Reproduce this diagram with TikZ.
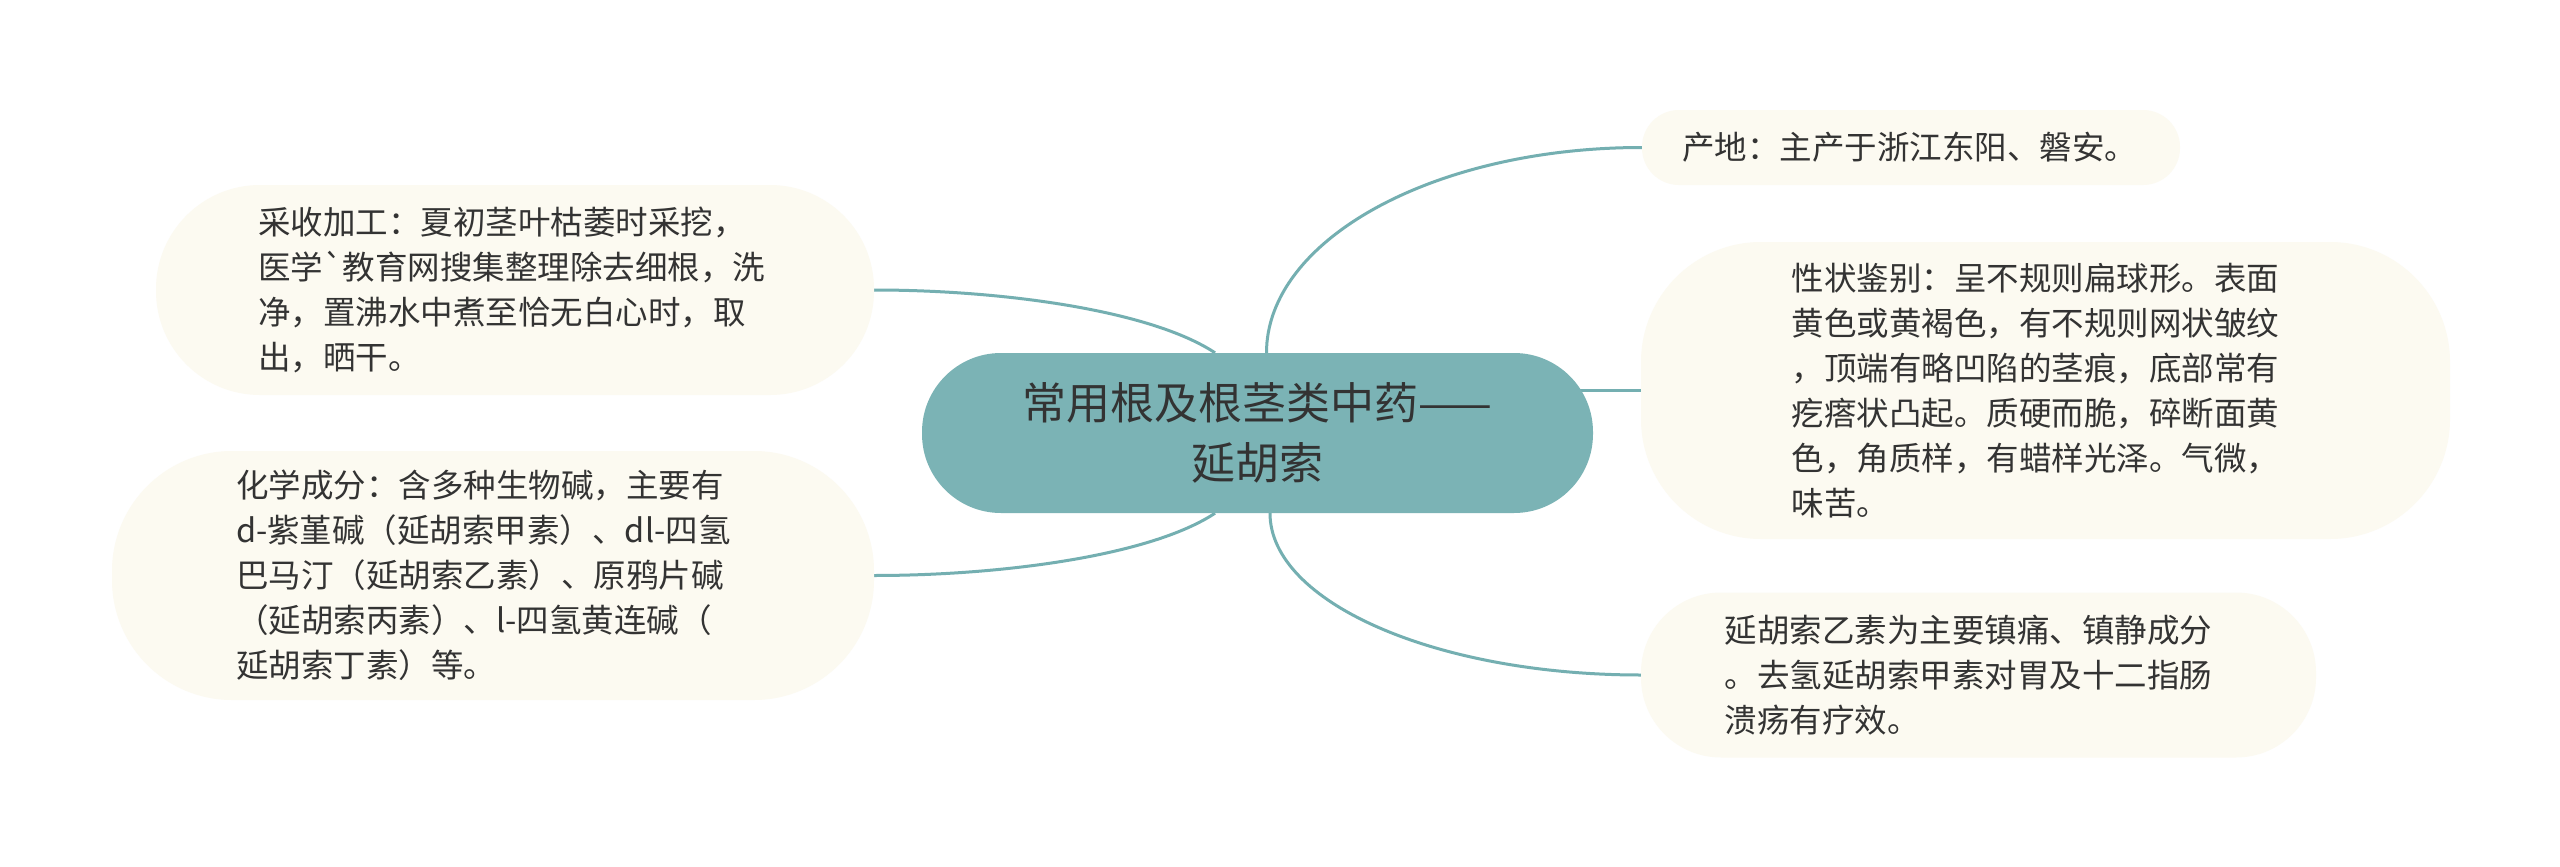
\documentclass[tikz,border=0pt]{standalone}
\usepackage{fontspec}
\newfontfamily\cjk{Noto Sans CJK SC}
\usetikzlibrary{calc}
\definecolor{centerfill}{HTML}{7BB3B5}
\definecolor{linecol}{HTML}{74AFB1}
\definecolor{leaffill}{HTML}{FCFAF1}
\definecolor{txtcol}{HTML}{333333}
\pgfdeclarelayer{background}
\pgfsetlayers{background,main}
\begin{document}
\begin{tikzpicture}[x=1pt,y=-1pt,
  leafbox/.style={fill=leaffill, draw=none, text=txtcol, align=left, inner sep=0pt,
    font=\cjk\fontsize{32.5}{45}\selectfont},
  centerbox/.style={fill=centerfill, draw=none, rounded corners=79pt, text=txtcol, align=center,
    inner sep=0pt, minimum width=671pt, minimum height=160pt,
    font=\cjk\fontsize{44}{60}\selectfont},
  conn/.style={draw=linecol, line width=3pt}]
\useasboundingbox (0,0) rectangle (2560,867);

\node[centerbox] (m) at (1257.5,433) {常用根及根茎类中药——\\延胡索};

\node[leafbox, minimum width=718pt, minimum height=210pt, rounded corners=104pt, text width=514pt] (a) at (515,290)
  {采收加工：夏初茎叶枯萎时采挖，\\医学`教育网搜集整理除去细根，洗\\净，置沸水中煮至恰无白心时，取\\出，晒干。};

\node[leafbox, minimum width=762pt, minimum height=249pt, rounded corners=120pt, text width=514pt] (b) at (493,575.5)
  {化学成分：含多种生物碱，主要有\\d-紫堇碱（延胡索甲素）、dl-四氢\\巴马汀（延胡索乙素）、原鸦片碱\\（延胡索丙素）、l-四氢黄连碱（\\延胡索丁素）等。};

\node[leafbox, minimum width=538pt, minimum height=75pt, rounded corners=37pt, text width=458pt] (c) at (1911,147.5)
  {产地：主产于浙江东阳、磐安。};

\node[leafbox, minimum width=809pt, minimum height=297pt, rounded corners=120pt, text width=508pt] (d) at (2045.5,390.5)
  {性状鉴别：呈不规则扁球形。表面\\黄色或黄褐色，有不规则网状皱纹\\，顶端有略凹陷的茎痕，底部常有\\疙瘩状凸起。质硬而脆，碎断面黄\\色，角质样，有蜡样光泽。气微，\\味苦。};

\node[leafbox, minimum width=675pt, minimum height=165pt, rounded corners=80pt, text width=508pt] (e) at (1978.5,675)
  {延胡索乙素为主要镇痛、镇静成分\\。去氢延胡索甲素对胃及十二指肠\\溃疡有疗效。};

\begin{pgfonlayer}{background}
\fill[white] (0,0) rectangle (2560,867);
\draw[conn] (a.east) .. controls +(126,0) and +(-65,-43) .. ([xshift=-42.5pt]m.north);
\draw[conn] (b.east) .. controls +(126,0) and +(-65,43) .. ([xshift=-42.5pt]m.south);
\draw[conn] ([xshift=9pt]m.north) .. controls +(0,-113) and +(-208,0) .. (c.west);
\draw[conn] (m.center |- d.west) -- (d.west);
\draw[conn] ([xshift=12.5pt]m.south) .. controls +(0,89) and +(-205,0) .. (e.west);
\end{pgfonlayer}
\end{tikzpicture}
\end{document}
